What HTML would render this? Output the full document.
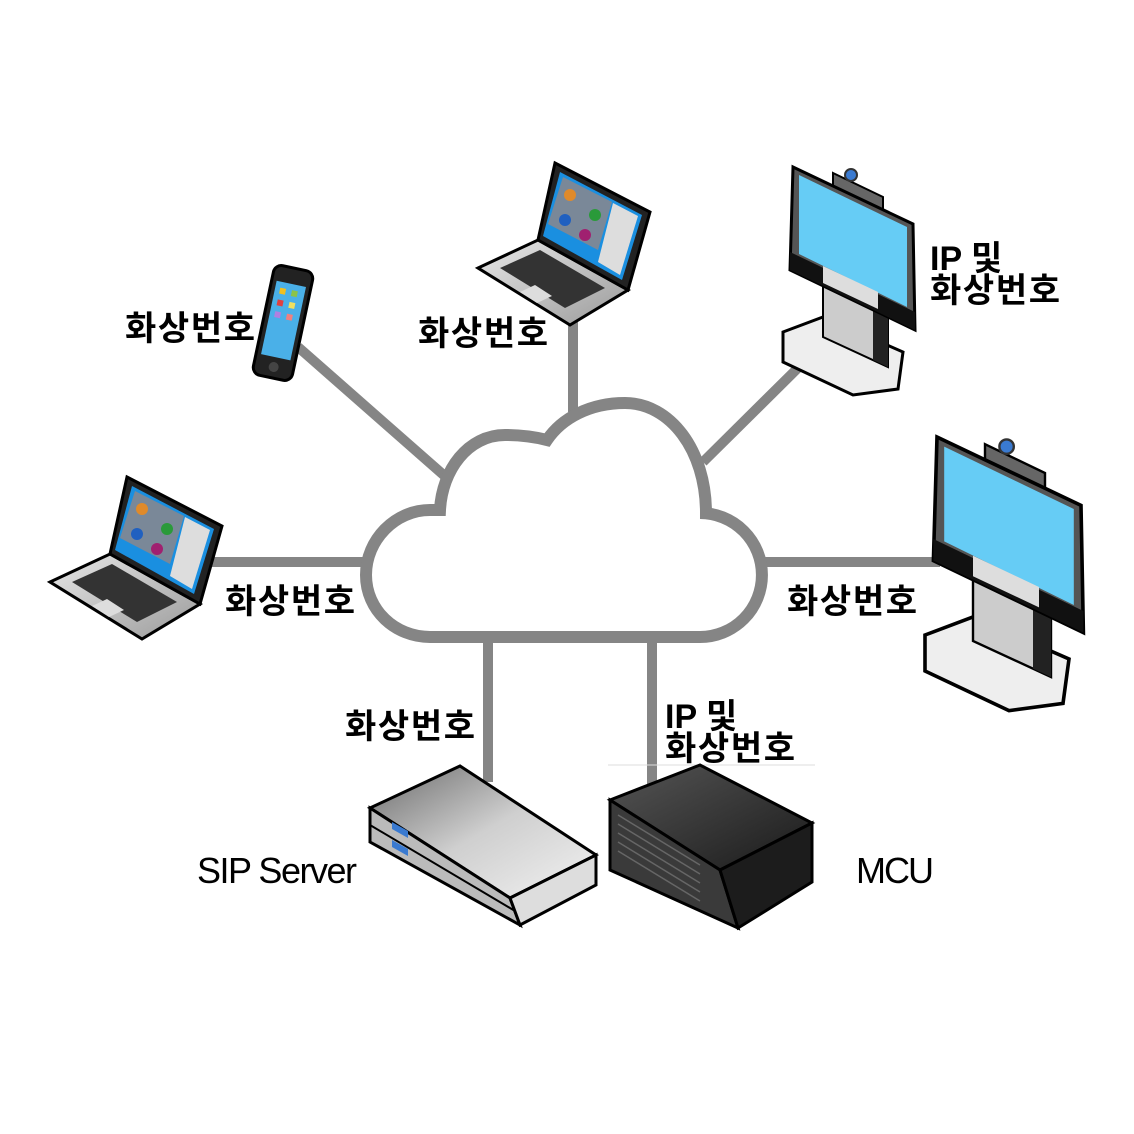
<!DOCTYPE html>
<html><head><meta charset="utf-8"><style>
html,body{margin:0;padding:0;background:#fff;}
svg{display:block;}
text{font-family:"Liberation Sans","Noto Sans CJK KR",sans-serif;fill:#000;}
.k{font-size:34px;font-weight:bold;}
.l{font-size:36px;}
</style></head><body>
<svg width="1134" height="1134" viewBox="0 0 1134 1134" xmlns="http://www.w3.org/2000/svg">
<defs>
<linearGradient id="gtop" x1="0" y1="0" x2="1" y2="1"><stop offset="0" stop-color="#6a6a6a"/><stop offset="0.5" stop-color="#cfcfcf"/><stop offset="1" stop-color="#f2f2f2"/></linearGradient>
<linearGradient id="gdark" x1="0" y1="0" x2="1" y2="1"><stop offset="0" stop-color="#555"/><stop offset="1" stop-color="#1a1a1a"/></linearGradient>
<linearGradient id="gsil" x1="0" y1="0" x2="1" y2="1"><stop offset="0" stop-color="#e8e8e8"/><stop offset="1" stop-color="#9a9a9a"/></linearGradient>
<g id="laptop">
  <polygon points="478,268 538,240 628,290 570,325" fill="url(#gsil)" stroke="#000" stroke-width="3"/>
  <polygon points="500,268 540,250 605,288 565,308" fill="#333"/>
  <polygon points="520,292 535,285 552,296 537,303" fill="#ddd"/>
  <polygon points="555,163 650,212 628,290 538,240" fill="#222" stroke="#000" stroke-width="3"/>
  <polygon points="560,172 642,215 622,280 543,236" fill="#1a8fe0"/>
  <polygon points="563,177 612,202 598,250 548,224" fill="#7a8898"/>
  <polygon points="613,203 638,216 620,275 598,262" fill="#ddd"/>
  <circle cx="570" cy="195" r="6" fill="#e08a2a"/><circle cx="595" cy="215" r="6" fill="#2a9a3a"/>
  <circle cx="565" cy="220" r="6" fill="#2060c0"/><circle cx="585" cy="235" r="6" fill="#a02070"/>
</g>
<g id="tele">
  <polygon points="-10,165 30,150 110,185 105,222 60,228 -10,195" fill="#eee" stroke="#000" stroke-width="3"/>
  <polygon points="30,110 95,140 95,200 30,170" fill="#ccc" stroke="#000" stroke-width="2"/>
  <polygon points="80,133 95,140 95,200 80,193" fill="#222"/>
  <polygon points="40,6 90,30 90,48 40,24" fill="#666" stroke="#000" stroke-width="2"/>
  <circle cx="58" cy="8" r="6" fill="#3a7ad0" stroke="#333" stroke-width="2"/>
  <polygon points="0,0 120,57 122,163 -3,103" fill="#555" stroke="#000" stroke-width="3"/>
  <polygon points="6,8 114,60 114,140 6,87" fill="#66ccf5"/>
  <polygon points="-3,85 122,145 122,163 -3,103" fill="#111"/>
  <polygon points="30,99 85,125 85,142 30,116" fill="#ddd"/>
</g>
</defs>

<g stroke="#858585" stroke-width="10" fill="none">
  <line x1="573" y1="320" x2="573" y2="412"/>
  <line x1="298" y1="347" x2="447" y2="478"/>
  <line x1="808" y1="358" x2="703" y2="462"/>
  <line x1="210" y1="562" x2="368" y2="562"/>
  <line x1="760" y1="562" x2="940" y2="562"/>
  <line x1="488" y1="640" x2="488" y2="782"/>
  <line x1="652" y1="640" x2="652" y2="792"/>
</g>
<path d="M700,637 A62,62 0 0 0 700,513 L706,513 C706,450 670,403 625,403 C590,403 562,418 547,440 C535,437 520,435 505,435 C468,435 442,470 440,510 L430,510 C395,510 366,540 366,575 C366,610 395,637 430,637 Z" fill="#fff" stroke="#858585" stroke-width="12" stroke-linejoin="miter"/>
<line x1="608" y1="765" x2="815" y2="765" stroke="#ddd" stroke-width="1"/>

<use href="#laptop"/>
<use href="#laptop" transform="translate(-428,314)"/>

<g transform="translate(283,323) rotate(12)">
  <rect x="-20" y="-56" width="40" height="112" rx="8" fill="#222" stroke="#000" stroke-width="3"/>
  <rect x="-15" y="-40" width="30" height="75" fill="#4ab0e8"/>
  <rect x="-10" y="-34" width="6" height="6" fill="#f0c020"/><rect x="2" y="-34" width="6" height="6" fill="#8bc34a"/>
  <rect x="-10" y="-22" width="6" height="6" fill="#e04040"/><rect x="2" y="-22" width="6" height="6" fill="#f0e060"/>
  <rect x="-10" y="-10" width="6" height="6" fill="#b080e0"/><rect x="2" y="-10" width="6" height="6" fill="#f08080"/>
  <circle cx="0" cy="45" r="5" fill="#444"/>
</g>

<use href="#tele" transform="translate(793,167)"/>
<use href="#tele" transform="translate(937,437) scale(1.2)"/>

<!-- SIP server -->
<polygon points="370,808 460,766 596,855 510,898" fill="url(#gtop)" stroke="#000" stroke-width="3"/>
<polygon points="370,808 510,898 520,925 370,842" fill="#bbb" stroke="#000" stroke-width="3"/>
<polygon points="510,898 596,855 596,885 520,925" fill="#ddd" stroke="#000" stroke-width="3"/>
<line x1="370" y1="825" x2="515" y2="911" stroke="#000" stroke-width="2"/>
<polygon points="392,822 408,831 408,838 392,829" fill="#3a7ad0"/>
<polygon points="392,840 408,849 408,856 392,847" fill="#3a7ad0"/>
<!-- MCU -->
<polygon points="610,800 700,765 812,823 720,870" fill="url(#gdark)" stroke="#000" stroke-width="3"/>
<polygon points="610,800 720,870 738,928 610,870" fill="#3a3a3a" stroke="#000" stroke-width="3"/>
<polygon points="720,870 812,823 812,882 738,928" fill="#1c1c1c" stroke="#000" stroke-width="3"/>
<g stroke="#666" stroke-width="1.5">
<line x1="618" y1="815" x2="700" y2="865"/><line x1="618" y1="824" x2="700" y2="874"/>
<line x1="618" y1="833" x2="700" y2="883"/><line x1="618" y1="842" x2="700" y2="892"/>
<line x1="618" y1="851" x2="700" y2="901"/>
</g>

<g class="k">
<text x="125" y="340" class="k" textLength="130">화상번호</text>
<text x="418" y="345" class="k" textLength="130">화상번호</text>
<text x="225" y="613" class="k" textLength="130">화상번호</text>
<text x="787" y="613" class="k" textLength="130">화상번호</text>
<text x="345" y="738" class="k" textLength="130">화상번호</text>
<text x="930" y="270" class="k">IP 및</text>
<text x="930" y="302" class="k" textLength="130">화상번호</text>
<text x="665" y="728" class="k">IP 및</text>
<text x="665" y="760" class="k" textLength="130">화상번호</text>
</g>
<text x="197" y="883" class="l" textLength="160">SIP Server</text>
<text x="856" y="883" class="l" textLength="78">MCU</text>
</svg>
</body></html>
